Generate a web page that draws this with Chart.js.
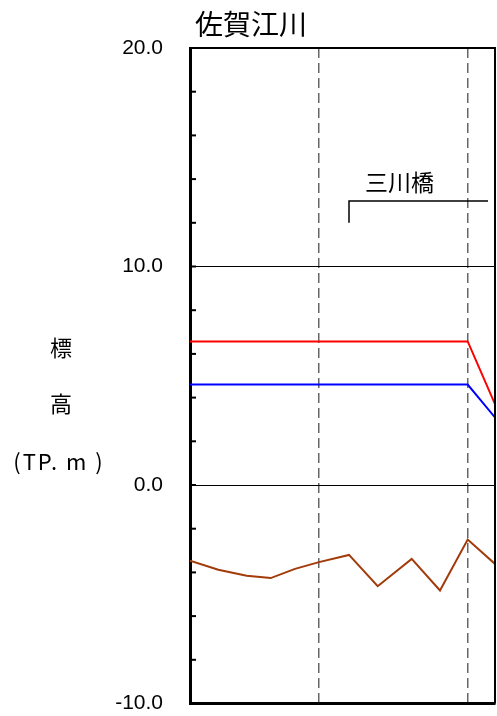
<!DOCTYPE html>
<html>
<head>
<meta charset="utf-8">
<script src="https://cdn.jsdelivr.net/npm/chart.js@4"></script>
<style>
  html, body { margin: 0; padding: 0; background: #fff; }
  #wrap { width: 497px; height: 716px; }
</style>
</head>
<body>
<div id="wrap"><canvas id="c"></canvas></div>
<script>
'use strict';
// 佐賀江川 縦断図 (距離は m, 標高は TP.m)
var riverName = '佐賀江川';
var bridgeName = '三川橋';
var yTickLabels = ['-10.0', '0.0', '10.0', '20.0'];

// 河床高
var bedDist = [0, 283, 567, 807, 1050, 1290, 1590, 1877, 2217, 2500, 2777, 3050];
var bedElev = [-3.47, -3.88, -4.15, -4.26, -3.84, -3.53, -3.2, -4.63, -3.38, -4.83, -2.5, -3.61];
// 赤線
var redDist = [0, 2777, 3050];
var redElev = [6.57, 6.57, 3.7];
// 青線
var blueDist = [0, 2777, 3050];
var blueElev = [4.6, 4.6, 3.09];
// 破線の位置
var markDist = [1287, 2780];
// 橋の位置と高さ
var bridgeFrom = 1590, bridgeTo = 2980;
var bridgeLow = 12.0, bridgeHigh = 13.0;

function pts(xs, ys) {
    return xs.map(function (x, i) { return { x: x, y: ys[i] }; });
}

var deco = {
    id: 'deco',
    afterDraw: function (chart) {
        var ctx = chart.ctx, a = chart.chartArea;
        var xs = chart.scales.x, ys = chart.scales.y;
        ctx.save();
        ctx.strokeStyle = '#000';
        // 枠 (上・右)
        ctx.lineWidth = 2;
        ctx.beginPath();
        ctx.moveTo(a.left, a.top); ctx.lineTo(a.right, a.top);
        ctx.lineTo(a.right, a.bottom);
        ctx.stroke();
        // 内向きの目盛
        ys.ticks.forEach(function (t) {
            var py = ys.getPixelForValue(t.value);
            ctx.beginPath();
            ctx.moveTo(a.left, py); ctx.lineTo(a.left + 6, py);
            ctx.stroke();
        });
        // 橋
        var bx1 = xs.getPixelForValue(bridgeFrom), bx2 = xs.getPixelForValue(bridgeTo);
        var by1 = ys.getPixelForValue(bridgeHigh), by2 = ys.getPixelForValue(bridgeLow);
        ctx.lineWidth = 1.5;
        ctx.beginPath();
        ctx.moveTo(bx1, by2); ctx.lineTo(bx1, by1); ctx.lineTo(bx2, by1);
        ctx.stroke();
        ctx.fillStyle = '#000';
        ctx.textAlign = 'center';
        ctx.textBaseline = 'alphabetic';
        ctx.font = '23px "Noto Sans CJK JP"';
        ctx.fillText(bridgeName, (bx1 + bx2) / 2 - 19, by1 - 10);
        // タイトル
        ctx.textAlign = 'left';
        ctx.font = '28px "Noto Sans CJK JP"';
        ctx.fillText(riverName, 195, 35);
        // 縦軸名
        ctx.textAlign = 'center';
        ctx.textBaseline = 'middle';
        ctx.font = '22px "Noto Sans CJK JP"';
        ctx.fillText('標', 61, 348);
        ctx.fillText('高', 61, 404);
        ctx.letterSpacing = '2px';
        ctx.fillText('(TP. m )', 59, 462);
        ctx.restore();
    }
};

new Chart(document.getElementById('c'), {
    type: 'line',
    data: {
        datasets: [
            { data: pts(redDist, redElev), borderColor: '#ff0000', borderWidth: 2 },
            { data: pts(blueDist, blueElev), borderColor: '#0000ff', borderWidth: 2 },
            { data: pts(bedDist, bedElev), borderColor: '#a33a0a', borderWidth: 2 }
        ]
    },
    options: {
        responsive: true,
        maintainAspectRatio: false,
        animation: false,
        layout: { padding: { top: 48, right: 2, bottom: 0, left: 0 } },
        elements: { point: { radius: 0 }, line: { tension: 0 } },
        plugins: { legend: { display: false }, tooltip: { enabled: false } },
        scales: {
            x: {
                type: 'linear',
                min: 0,
                max: 3050,
                afterBuildTicks: function (s) {
                    s.ticks = markDist.map(function (v) { return { value: v }; });
                },
                afterFit: function (s) { s.height = 0; },
                ticks: { display: false },
                grid: { color: '#666', lineWidth: 1.5, drawTicks: false, tickBorderDash: [10, 5] },
                border: { color: '#000', width: 3, dash: [10, 5] }
            },
            y: {
                min: -10,
                max: 20,
                afterFit: function (s) {
                    s.width = 190;
                    s.paddingTop = 12;
                    s.paddingBottom = 12.5;
                },
                ticks: {
                    stepSize: 2,
                    padding: 27,
                    color: '#000',
                    font: { family: 'Liberation Sans', size: 21 },
                    callback: function (v) {
                        var s = v.toFixed(1);
                        return yTickLabels.indexOf(s) >= 0 ? s : '';
                    }
                },
                grid: {
                    drawTicks: false,
                    color: function (c) {
                        var v = c.tick ? c.tick.value : null;
                        return (v === 0 || v === 10) ? '#000' : 'rgba(0,0,0,0)';
                    },
                    lineWidth: 1
                },
                border: { color: '#000', width: 3 }
            }
        }
    },
    plugins: [deco]
});
</script>
</body>
</html>
